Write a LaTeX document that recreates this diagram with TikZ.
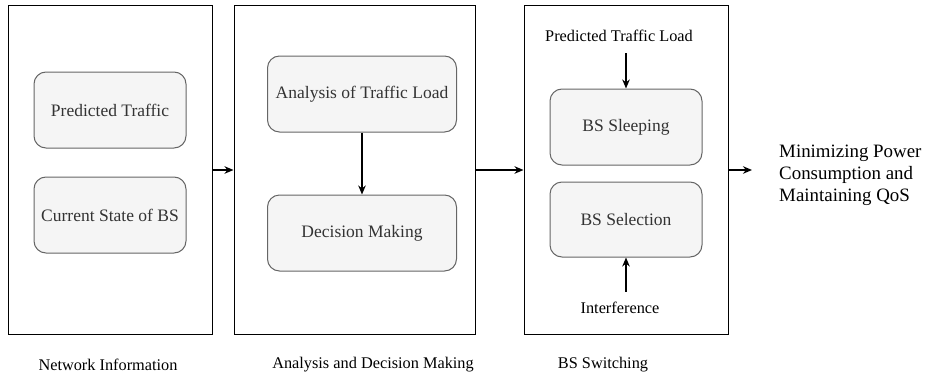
\documentclass[tikz,border=0pt]{standalone}
\usepackage{fontspec}
\setmainfont{Liberation Serif}
\usetikzlibrary{shapes.geometric, arrows.meta, positioning}
\definecolor{boxgray}{HTML}{F5F5F5}
\definecolor{linegray}{HTML}{666666}
\definecolor{textgray}{HTML}{333333}
\tikzstyle{stage} = [rectangle,
minimum width=204pt,
minimum height=329pt,
draw=black,
line width=1pt]
\tikzstyle{task} = [rectangle, rounded corners=12pt,
minimum width=152pt,
minimum height=76pt,
text centered,
draw=linegray,
fill=boxgray,
text=textgray,
line width=1pt,
font=\fontsize{17.5}{20}\selectfont]
\tikzstyle{caption} = [font=\fontsize{16.3}{19}\selectfont]
\tikzstyle{arrow} = [line width=1.6pt,-{Stealth[length=9pt,width=7.5pt]}]

\begin{document}
\begin{tikzpicture}[x=1pt,y=-1pt]
    \useasboundingbox (0,0) rectangle (926,380);

    % stages
    \node (net) [stage] at (110,170) {};
    \node (ana) [stage, minimum width=241pt] at (354.5,170) {};
    \node (swi) [stage] at (626,170) {};

    % tasks
    \node (pred) [task] at (110,110) {Predicted Traffic};
    \node (curr) [task] at (110,215) {Current State of BS};
    \node (load) [task, minimum width=189pt] at (362,94) {Analysis of Traffic Load};
    \node (dec) [task, minimum width=189pt] at (362,233) {Decision Making};
    \node (sleep) [task] at (626,127) {BS Sleeping};
    \node (sel) [task, minimum height=75pt] at (626,219.5) {BS Selection};

    % inputs and output
    \node (ptl) [caption] at (619,36) {Predicted Traffic Load};
    \node (intf) [caption] at (620,308) {Interference};
    \node (goal) [anchor=west, align=left, inner sep=0pt,
        font=\fontsize{18.9}{22}\selectfont] at (779,175)
        {Minimizing Power\\Consumption and\\Maintaining QoS};
    \coordinate (out) at (752,170);

    % captions
    \node (netlbl) [caption] at (108,365) {Network Information};
    \node (analbl) [caption] at (373,365) {Analysis and Decision Making};
    \node (swilbl) [caption] at (603,365) {BS Switching};

    \draw [arrow] (net) -- (ana);
    \draw [arrow] (ana) -- (swi);
    \draw [arrow] (swi) -- (out);
    \draw [arrow] (load) -- (dec);
    \draw [arrow, shorten <=8pt] (ptl.south -| sleep.north) -- (sleep.north);
    \draw [arrow, shorten <=7pt] (intf.north -| sel.south) -- (sel.south);

\end{tikzpicture}
\end{document}
